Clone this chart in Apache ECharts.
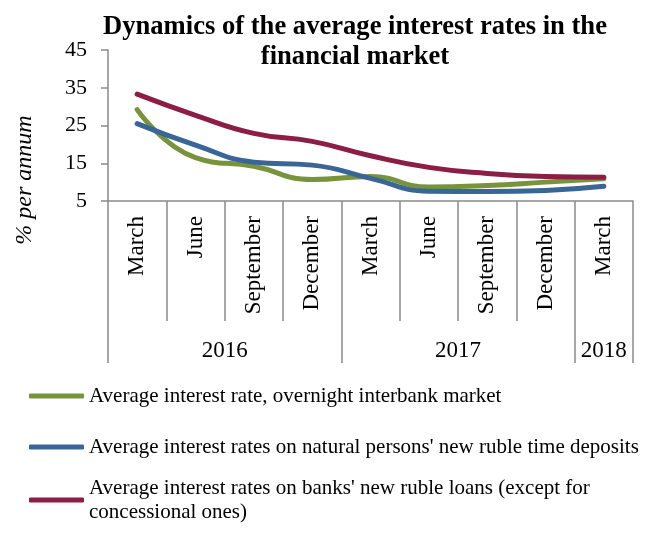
<!DOCTYPE html>
<html>
<head>
<meta charset="utf-8">
<script src="https://cdn.jsdelivr.net/npm/echarts@6/dist/echarts.min.js"></script>
<style>
  html, body { margin: 0; padding: 0; background: #fff; }
  #chart { width: 650px; height: 533px; }
</style>
</head>
<body>
<div id="chart"></div>
<script>
// Quarter-end months, 2016 Q1 – 2018 Q1
const months = ['March', 'June', 'September', 'December', 'March', 'June', 'September', 'December', 'March'];
// Year groups: label, first month index, number of months
const yearLabels = ['2016', '2017', '2018'];
const yearStart = [0, 4, 8];
const yearSpan = [4, 4, 1];
const yAxisTicks = [5, 15, 25, 35, 45];

// % per annum
const overnightRate = [29.2, 16.5, 14.2, 10.7, 11.5, 8.7, 9.1, 10.0, 10.9];
const depositRate = [25.5, 19.8, 15.3, 14.5, 11.0, 7.6, 7.5, 7.8, 8.9];
const loanRate = [33.3, 27.7, 22.9, 20.8, 17.0, 13.9, 12.3, 11.5, 11.3];

const seriesNames = [
  'Average interest rate, overnight interbank market',
  "Average interest rates on natural persons' new ruble time deposits",
  "Average interest rates on banks' new ruble loans (except for concessional ones)"
];
const seriesColors = ['#77933C', '#3A6597', '#8C1D44'];

const FONT = '"Liberation Serif", "Times New Roman", serif';
const AXIS_COLOR = '#8a8a8a';

// Year separators sit on the month boundaries; labels sit in the middle of each span
const yearBounds = yearStart.concat([months.length]);
const yearCenters = yearStart.map((s, i) => s + yearSpan[i] / 2);

const chart = echarts.init(document.getElementById('chart'), null, { renderer: 'canvas' });

function legendFor(i, top, extra) {
  return Object.assign({
    data: [seriesNames[i]],
    left: 29,
    top: top,
    orient: 'vertical',
    icon: 'roundRect',
    itemWidth: 55,
    itemHeight: 5,
    selectedMode: false,
    padding: 0,
    textStyle: { fontFamily: FONT, fontSize: 21, color: '#000', lineHeight: 24 }
  }, extra || {});
}

chart.setOption({
  animation: false,
  title: {
    text: 'Dynamics of the average interest rates in the\nfinancial market',
    left: 355,
    top: 12,
    padding: 0,
    textAlign: 'center',
    textStyle: { fontFamily: FONT, fontSize: 26.6, fontWeight: 'bold', color: '#000', lineHeight: 30 }
  },
  legend: [
    legendFor(0, 384),
    legendFor(1, 435),
    legendFor(2, 464, {
      formatter: name => name.replace('(except for ', '(except for\n'),
      textStyle: { fontFamily: FONT, fontSize: 21, color: '#000', lineHeight: 24, padding: [24, 0, 0, 0] }
    })
  ],
  grid: { left: 108, right: 17, top: 50, bottom: 332, containLabel: false, outerBoundsMode: 'none' },
  xAxis: [
    {
      type: 'category',
      data: months,
      boundaryGap: true,
      axisLine: { lineStyle: { color: AXIS_COLOR, width: 1.5 } },
      axisTick: { show: true, interval: 0, length: 120, lineStyle: { color: AXIS_COLOR, width: 1.5 } },
      axisLabel: {
        interval: 0,
        rotate: 90,
        margin: 15,
        fontFamily: FONT,
        fontSize: 23,
        color: '#000'
      },
      splitLine: { show: false }
    },
    {
      type: 'value',
      min: 0,
      max: months.length,
      position: 'bottom',
      offset: 120,
      axisLine: { show: false },
      axisTick: {
        show: true,
        customValues: yearBounds,
        length: 42,
        lineStyle: { color: AXIS_COLOR, width: 1.5 }
      },
      axisLabel: {
        customValues: yearCenters,
        margin: 18,
        fontFamily: FONT,
        fontSize: 23,
        color: '#000',
        formatter: v => yearLabels[yearCenters.indexOf(v)] || ''
      },
      splitLine: { show: false }
    }
  ],
  yAxis: {
    type: 'value',
    min: 5,
    max: 45,
    name: '% per annum',
    nameLocation: 'middle',
    nameGap: 71,
    nameRotate: 90,
    nameTextStyle: {
      fontFamily: FONT,
      fontSize: 24,
      fontStyle: 'italic',
      color: '#000',
      padding: [0, 109, 0, 0]
    },
    axisLine: { show: true, lineStyle: { color: AXIS_COLOR, width: 1.5 } },
    axisTick: { show: true, length: 7, customValues: yAxisTicks, lineStyle: { color: AXIS_COLOR, width: 1.5 } },
    axisLabel: { customValues: yAxisTicks, margin: 21, fontFamily: FONT, fontSize: 22, color: '#000' },
    splitLine: { show: false }
  },
  series: [overnightRate, depositRate, loanRate].map((values, i) => ({
    name: seriesNames[i],
    type: 'line',
    xAxisIndex: 0,
    data: values,
    smooth: true,
    showSymbol: false,
    symbol: 'none',
    color: seriesColors[i],
    lineStyle: { width: 5, color: seriesColors[i], cap: 'round', join: 'round' }
  }))
});
</script>
</body>
</html>
